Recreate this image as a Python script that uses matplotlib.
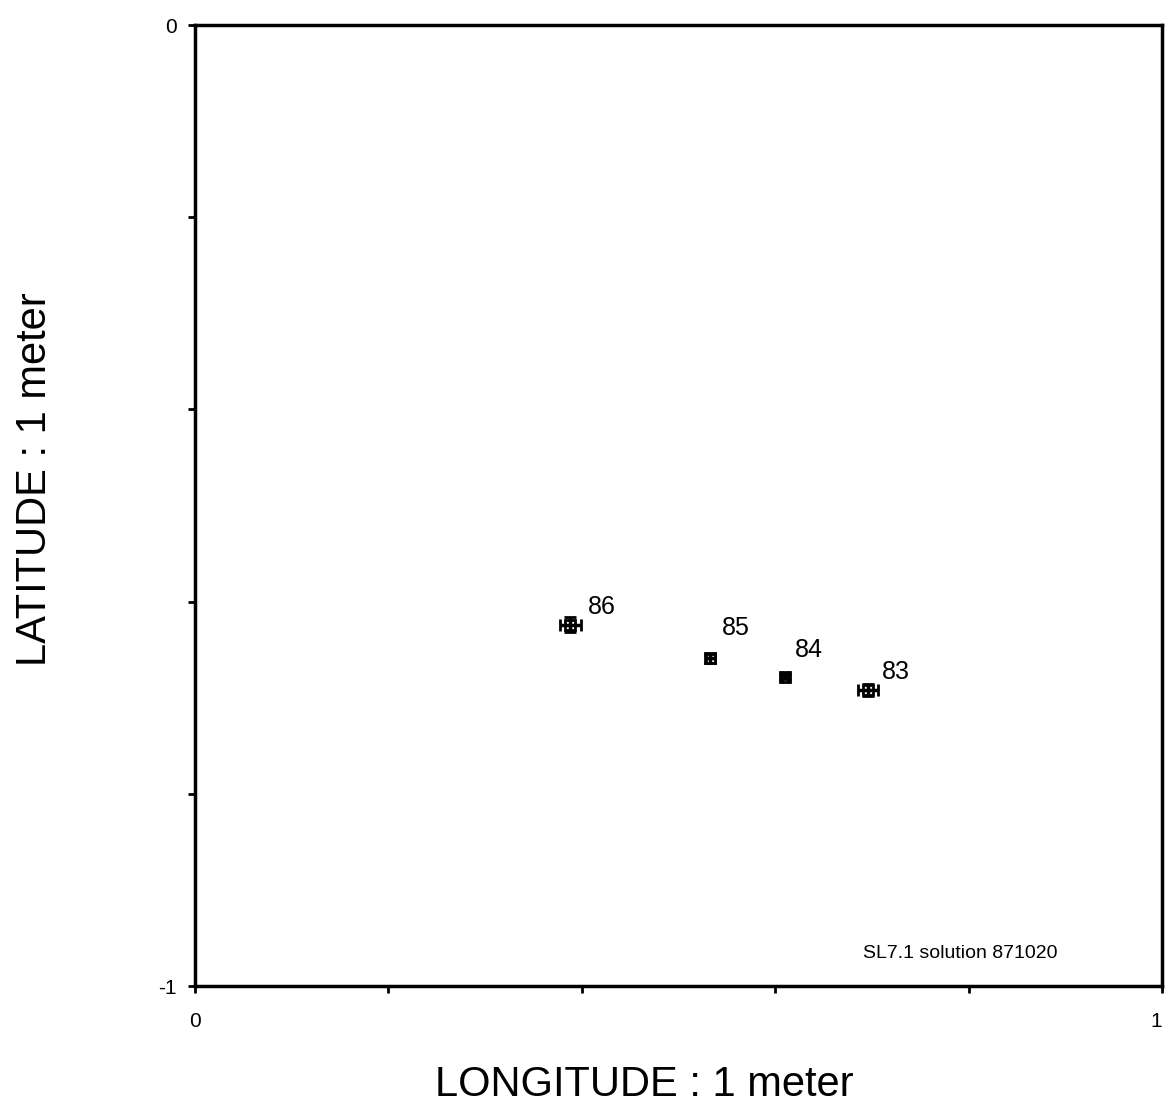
import matplotlib
matplotlib.use("Agg")
import matplotlib.pyplot as plt

plt.rcParams['font.family'] = ['Liberation Sans', 'DejaVu Sans']

years = ["86", "85", "84", "83"]
lon = [0.388, 0.533, 0.610, 0.696]
lat = [-0.624, -0.659, -0.678, -0.692]
lon_err = [0.011, 0.005, 0.003, 0.010]
lat_err = [0.008, 0.005, 0.003, 0.006]
label_offsets = [(23, 13), (18, 22), (17, 19), (20, 13)]  # points

fig = plt.figure(figsize=(11.65, 11.13), dpi=100)
ax = fig.add_axes([0.1674, 0.1141, 0.830, 0.8634])

for x, y, xe, ye, lab, off in zip(lon, lat, lon_err, lat_err, years, label_offsets):
    ax.errorbar(x, y, xerr=xe, yerr=ye, fmt='s', ms=7, color='black',
                mfc='none', mew=2, elinewidth=2.5, capsize=4, capthick=2.5)
    ax.annotate(lab, (x, y), xytext=off, textcoords='offset points',
                ha='center', va='center', fontsize=18)

ax.set_xlim(0, 1)
ax.set_ylim(-1, 0)
ax.set_xticks([0, 0.2, 0.4, 0.6, 0.8, 1])
ax.set_xticklabels(["0", "", "", "", "", "1"])
ax.set_yticks([-1, -0.8, -0.6, -0.4, -0.2, 0])
ax.set_yticklabels(["-1", "", "", "", "", "0"])
ax.tick_params(direction='out', length=5, width=2, labelsize=15, pad=8)
ax.tick_params(axis='x', pad=14)
ax.get_xticklabels()[-1].set_horizontalalignment('right')
for s in ax.spines.values():
    s.set_linewidth(2.5)

ax.text(0.791, 0.034, "SL7.1 solution 871020", transform=ax.transAxes,
        ha='center', va='center', fontsize=14)

ax.set_xlabel("LONGITUDE : 1 meter", fontsize=30, va='center', ha='center')
ax.xaxis.set_label_coords(0.465, -0.103)
ax.set_ylabel("LATITUDE : 1 meter", fontsize=30, va='center', ha='center')
ax.yaxis.set_label_coords(-0.165, 0.527)

fig.savefig("out.png", dpi=100)
